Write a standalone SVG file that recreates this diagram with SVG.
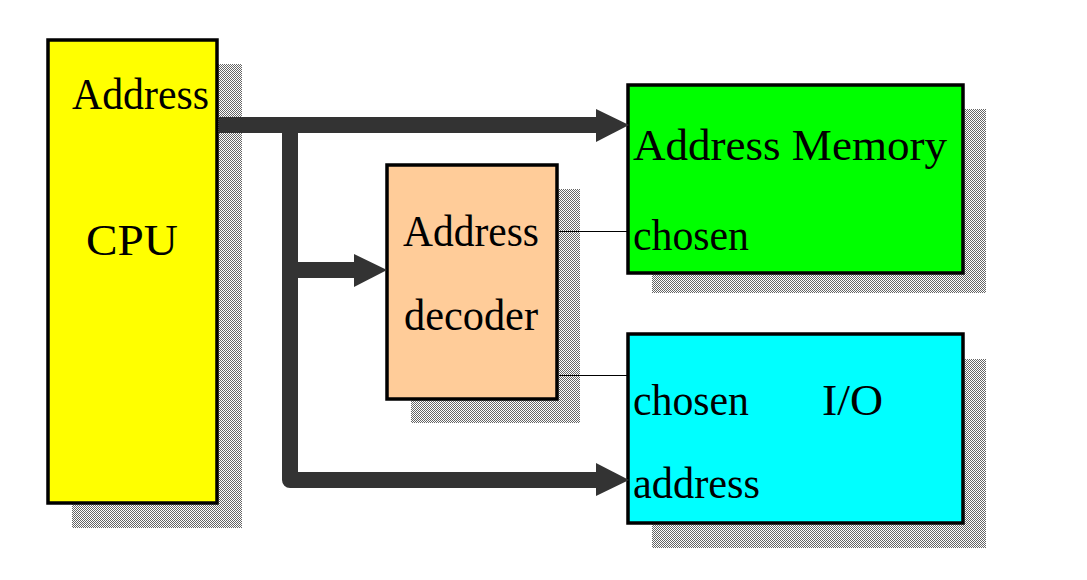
<svg xmlns="http://www.w3.org/2000/svg" width="1087" height="580" viewBox="0 0 1087 580">
<defs>
<pattern id="dither" width="2" height="2" patternUnits="userSpaceOnUse">
<rect width="2" height="2" fill="#ffffff"/>
<rect x="0" y="0" width="1" height="1" fill="#666666"/>
<rect x="1" y="1" width="1" height="1" fill="#666666"/>
</pattern>
</defs>
<style>
.shadow{fill:url(#dither);}
.box{stroke:#000;stroke-width:3.5;}
.t{font-family:"Liberation Serif","Times New Roman",serif;font-size:45px;fill:#000;}
.bus{fill:none;stroke:#333333;stroke-width:16;stroke-linejoin:round;}
.head{fill:#333333;}
.wire{stroke:#000;stroke-width:1;fill:none;}
</style>
<rect width="1087" height="580" fill="#ffffff"/>
<g id="cpu">
<rect class="shadow" x="72" y="64" width="170" height="464"/>
<rect class="box" x="48" y="40" width="169" height="463" fill="#ffff00"/>
<text class="t" x="72" y="109" textLength="137" lengthAdjust="spacingAndGlyphs">Address</text>
<text class="t" x="86" y="255" textLength="92" lengthAdjust="spacingAndGlyphs">CPU</text>
</g>
<g id="decoder">
<rect class="shadow" x="411" y="189" width="169" height="234"/>
<rect class="box" x="387" y="165" width="170" height="234" fill="#ffcc99"/>
<text class="t" x="403" y="246" textLength="136" lengthAdjust="spacingAndGlyphs">Address</text>
<text class="t" x="404" y="330" textLength="134" lengthAdjust="spacingAndGlyphs">decoder</text>
</g>
<g id="memory">
<rect class="shadow" x="652" y="109" width="334" height="184"/>
<rect class="box" x="628" y="85" width="335" height="188" fill="#00ff00"/>
<text class="t" x="633" y="160" textLength="314" lengthAdjust="spacingAndGlyphs">Address Memory</text>
<text class="t" x="633" y="250" textLength="116" lengthAdjust="spacingAndGlyphs">chosen</text>
</g>
<g id="io">
<rect class="shadow" x="652" y="359" width="334" height="189"/>
<rect class="box" x="628" y="334" width="335" height="189" fill="#00ffff"/>
<text class="t" x="633" y="415" textLength="116" lengthAdjust="spacingAndGlyphs">chosen</text>
<text class="t" x="822" y="415" textLength="61" lengthAdjust="spacingAndGlyphs">I/O</text>
<text class="t" x="633" y="498" textLength="127" lengthAdjust="spacingAndGlyphs">address</text>
</g>
<g id="connectors">
<path class="bus" d="M219,125 H598"/>
<polygon class="head" points="596,109 629,125 596,142"/>
<path class="bus" d="M290,125 V480 H598"/>
<polygon class="head" points="596,463 629,480 596,496"/>
<path class="bus" d="M290,270 H356"/>
<polygon class="head" points="354,254 387,270 354,287"/>
<path class="wire" d="M559,231.5 H627"/>
<path class="wire" d="M559,375.5 H627"/>
</g>
</svg>
